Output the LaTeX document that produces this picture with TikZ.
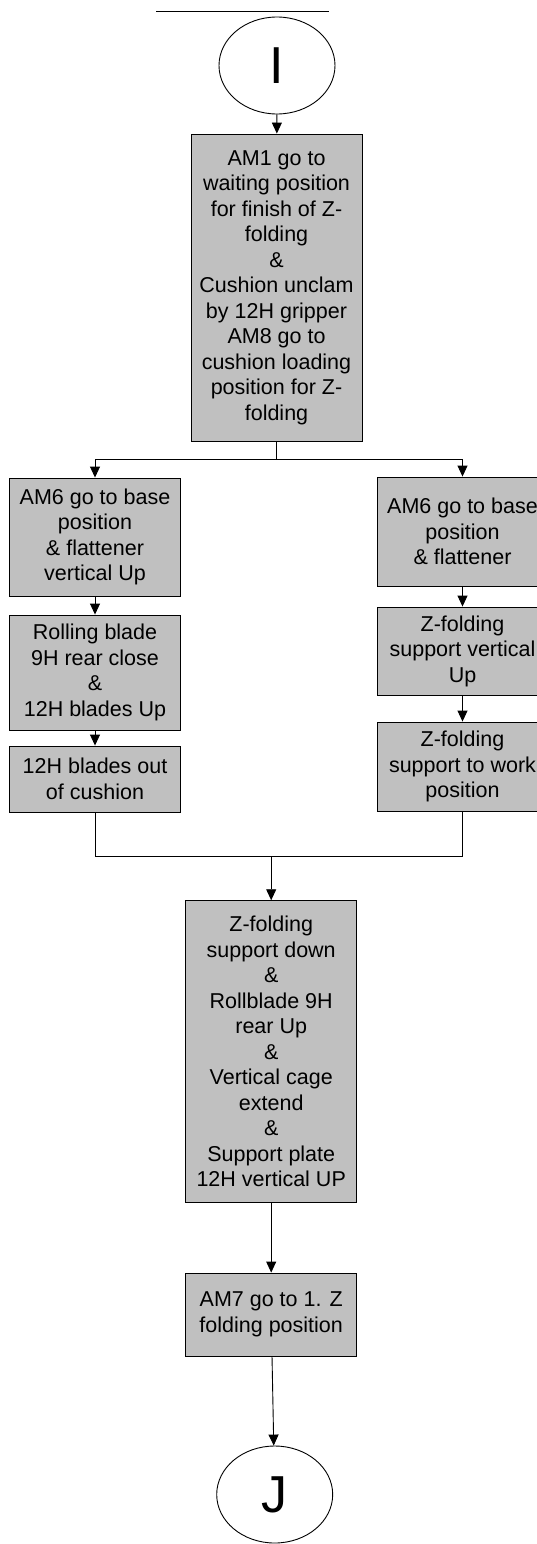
\documentclass[tikz,border=0pt]{standalone}
\usepackage{fontspec}
\setmainfont{Liberation Sans}
\usetikzlibrary{shapes.geometric,arrows.meta}
\definecolor{boxgray}{RGB}{192,192,192}
\tikzset{
    stepbox/.style={draw, fill=boxgray, line width=0.9pt, minimum width=171pt,
        align=center, inner sep=0pt, font=\fontsize{21.5}{25.5}\selectfont},
    letter/.style={draw, ellipse, line width=0.9pt, minimum width=116pt,
        minimum height=97pt, inner sep=0pt, font=\fontsize{52}{52}\selectfont},
    flow/.style={line width=0.9pt, -{Triangle[length=11pt,width=10pt]}},
    plain/.style={line width=0.9pt}
}
\begin{document}
\begin{tikzpicture}[x=1pt,y=-1pt]
        \useasboundingbox (0,0) rectangle (537,1544);

        % Draw the line above the start connector
        \draw[plain] (156,11) -- (329,11);

        % Add the start connector and the first step
        \node[letter] (nodeI) at (277,65.5) {I};
        \node[stepbox, minimum height=307pt] (unclamp) at (276.5,287.5)
            {AM1 go to\\ waiting position\\ for finish of Z-\\ folding\\ \&\\
             Cushion unclam\\ by 12H gripper\\ AM8 go to\\ cushion loading\\
             position for Z-\\ folding};

        % Left branch
        \node[stepbox, minimum height=118pt] (baseL) at (95,537)
            {AM6 go to base\\ position\\ \& flattener\\ vertical Up};
        \node[stepbox, minimum height=115pt] (bladeL) at (95,672.5)
            {Rolling blade\\ 9H rear close\\ \&\\ 12H blades Up};
        \node[stepbox, minimum height=66pt] (outL) at (95,779)
            {12H blades out\\ of cushion};

        % Right branch
        \node[stepbox, minimum height=109pt] (baseR) at (462.5,531.5)
            {AM6 go to base\\ position\\ \& flattener};
        \node[stepbox, minimum height=88pt] (zupR) at (462.5,651)
            {Z-folding\\ support vertical\\ Up};
        \node[stepbox, minimum height=89pt] (zworkR) at (462.5,766.5)
            {Z-folding\\ support to work\\ position};

        % Joined steps and the end connector
        \node[stepbox, minimum height=302pt] (zdown) at (271.2,1051.7)
            {Z-folding\\ support down\\ \&\\ Rollblade 9H\\ rear Up\\ \&\\
             Vertical cage\\ extend\\ \&\\ Support plate\\ 12H vertical UP};
        \node[stepbox, minimum height=83pt] (amseven) at (271.2,1314.5)
            {AM7 go to 1. Z\\ folding position};
        \node[letter] (nodeJ) at (274.7,1494.5) {J};

        % Draw the connectors
        \coordinate (split) at (276.5,459);
        \coordinate (merge) at (271.2,856);

        \draw[flow] (nodeI) -- (unclamp);
        \draw[plain] (unclamp) -- (split);
        \draw[flow] (split) -| (baseL);
        \draw[flow] (split) -| (baseR);
        \draw[flow] (baseL) -- (bladeL);
        \draw[flow] (bladeL) -- (outL);
        \draw[flow] (baseR) -- (zupR);
        \draw[flow] (zupR) -- (zworkR);
        \draw[plain] (outL) |- (merge);
        \draw[plain] (zworkR) |- (merge);
        \draw[flow] (merge) -- (zdown);
        \draw[flow] (zdown) -- (amseven);
        \draw[flow] (amseven) -- (nodeJ);
    \end{tikzpicture}
\end{document}
